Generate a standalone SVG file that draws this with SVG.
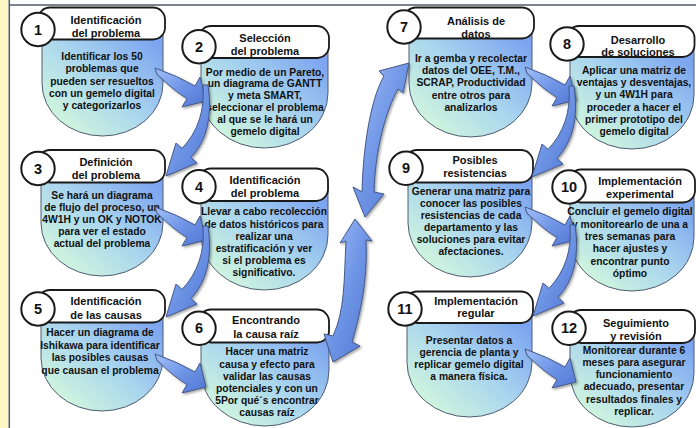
<svg xmlns="http://www.w3.org/2000/svg" width="696" height="428" viewBox="0 0 696 428">
<defs>
<linearGradient id="bodyGrad" x1="0.1" y1="0.9" x2="0.9" y2="0.1">
<stop offset="0" stop-color="#d3f8dc"/>
<stop offset="0.5" stop-color="#a9d5ee"/>
<stop offset="1" stop-color="#7ba3f0"/>
</linearGradient>
<linearGradient id="arrowGrad" x1="0" y1="0" x2="1" y2="1">
<stop offset="0" stop-color="#a2c0f8"/>
<stop offset="0.5" stop-color="#6f95e6"/>
<stop offset="1" stop-color="#5076d4"/>
</linearGradient>
<filter id="shadow" x="-30%" y="-30%" width="160%" height="160%">
<feDropShadow dx="1.5" dy="1.5" stdDeviation="1" flood-color="#333" flood-opacity="0.45"/>
</filter>
</defs>
<style>
.body{fill:url(#bodyGrad);stroke:#4f5b73;stroke-width:1}
.hdr{fill:#fff;stroke:#1a1a1a;stroke-width:1.8}
.numc{fill:#fff;stroke:#1a1a1a;stroke-width:2}
text{font-family:"Liberation Sans",Arial,sans-serif;font-weight:700;fill:#111;text-anchor:middle}
.h{font-size:11px}
.b{font-size:10.3px}
.n{font-size:14.5px}
.arrow{fill:url(#arrowGrad);stroke:#44598a;stroke-width:1;filter:url(#shadow)}
</style>
<rect x="0" y="0" width="696" height="428" fill="#fff"/>
<rect x="0" y="0" width="8.5" height="428" fill="#fdf8c4"/>
<line x1="9.3" y1="0" x2="9.3" y2="428" stroke="#4d5b6b" stroke-width="1.5"/>
<line x1="9" y1="5" x2="696" y2="5" stroke="#4d5b6b" stroke-width="1.5"/>

<g id="node1">
<path class="body" d="M42,24 H163 V83.4 A60.5 52.6 0 0 1 42,83.4 Z"/>
<rect class="hdr" x="38" y="7.5" width="127" height="32" rx="12"/>
<circle class="numc" cx="38" cy="29.5" r="16.7"/>
<text class="n" x="38" y="34.5">1</text>
<text class="h" x="106" y="24">Identificación</text>
<text class="h" x="106" y="36.5">del problema</text>
<text class="b" x="102" y="60">Identificar los 50</text>
<text class="b" x="102" y="72.3">problemas que</text>
<text class="b" x="102" y="84.5">pueden ser resueltos</text>
<text class="b" x="102" y="96.7">con un gemelo digital</text>
<text class="b" x="102" y="109">y categorizarlos</text>
</g>

<g id="node2">
<path class="body" d="M201,42 H328 V92.8 A63.5 55.2 0 0 1 201,92.8 Z"/>
<rect class="hdr" x="199" y="26" width="130" height="32" rx="12"/>
<circle class="numc" cx="199" cy="46.7" r="16.7"/>
<text class="n" x="199" y="51.7">2</text>
<text class="h" x="265" y="42">Selección</text>
<text class="h" x="265" y="54.5">del problema</text>
<text class="b" x="265" y="75.5">Por medio de un Pareto,</text>
<text class="b" x="265" y="87.3">un diagrama de GANTT</text>
<text class="b" x="265" y="99.1">y meta SMART,</text>
<text class="b" x="265" y="110.9">seleccionar el problema</text>
<text class="b" x="265" y="122.7">al que se le hará un</text>
<text class="b" x="265" y="134.5">gemelo digital</text>
</g>

<g id="node3">
<path class="body" d="M41,166 H163 V223 A61 53 0 0 1 41,223 Z"/>
<rect class="hdr" x="38" y="150" width="127" height="32.5" rx="12"/>
<circle class="numc" cx="38" cy="168.5" r="16.7"/>
<text class="n" x="38" y="173.5">3</text>
<text class="h" x="106" y="166">Definición</text>
<text class="h" x="106" y="179">del problema</text>
<text class="b" x="102" y="199">Se hará un diagrama</text>
<text class="b" x="102" y="211">de flujo del proceso, un</text>
<text class="b" x="102" y="223">4W1H y un OK y NOTOK</text>
<text class="b" x="102" y="235">para ver el estado</text>
<text class="b" x="102" y="247">actual del problema</text>
</g>

<g id="node4">
<path class="body" d="M201,184 H328 V234.8 A63.5 55.2 0 0 1 201,234.8 Z"/>
<rect class="hdr" x="199" y="168.5" width="129" height="32.5" rx="12"/>
<circle class="numc" cx="199" cy="186.7" r="16.7"/>
<text class="n" x="199" y="191.7">4</text>
<text class="h" x="265" y="184">Identificación</text>
<text class="h" x="265" y="197">del problema</text>
<text class="b" x="264" y="215.4">Llevar a cabo recolección</text>
<text class="b" x="264" y="227.6">de datos históricos para</text>
<text class="b" x="264" y="239.8">realizar una</text>
<text class="b" x="264" y="252">estratificación y ver</text>
<text class="b" x="264" y="264.2">si el problema es</text>
<text class="b" x="264" y="276.4">significativo.</text>
</g>

<g id="node5">
<path class="body" d="M41,306 H163 V358 A61 53 0 0 1 41,358 Z"/>
<rect class="hdr" x="38" y="290" width="127" height="32.5" rx="12"/>
<circle class="numc" cx="38" cy="309" r="16.7"/>
<text class="n" x="38" y="314">5</text>
<text class="h" x="106" y="305">Identificación</text>
<text class="h" x="106" y="318.5">de las causas</text>
<text class="b" x="100" y="336">Hacer un diagrama de</text>
<text class="b" x="100" y="348.5">Ishikawa para identificar</text>
<text class="b" x="100" y="361">las posibles causas</text>
<text class="b" x="100" y="373.5">que causan el problema</text>
</g>

<g id="node6">
<path class="body" d="M201,325 H329 V370.3 A64 55.7 0 0 1 201,370.3 Z"/>
<rect class="hdr" x="199" y="309.5" width="130" height="33" rx="12"/>
<circle class="numc" cx="199" cy="328.3" r="16.7"/>
<text class="n" x="199" y="333.3">6</text>
<text class="h" x="266" y="324">Encontrando</text>
<text class="h" x="266" y="337.5">la causa raíz</text>
<text class="b" x="267" y="355.4">Hacer una matriz</text>
<text class="b" x="267" y="367.6">causa y efecto para</text>
<text class="b" x="267" y="379.8">validar las causas</text>
<text class="b" x="267" y="392">potenciales y con un</text>
<text class="b" x="267" y="404.2">5Por qué´s encontrar</text>
<text class="b" x="267" y="416.4">causas raíz</text>
</g>

<g id="node7">
<path class="body" d="M409,24 H532 V83.5 A61.5 53.5 0 0 1 409,83.5 Z"/>
<rect class="hdr" x="404" y="7.5" width="130" height="31" rx="12"/>
<circle class="numc" cx="404" cy="27" r="16.7"/>
<text class="n" x="404" y="32">7</text>
<text class="h" x="476" y="25">Análisis de</text>
<text class="h" x="476" y="38">datos</text>
<text class="b" x="471" y="62">Ir a gemba y recolectar</text>
<text class="b" x="471" y="74.2">datos del OEE, T.M.,</text>
<text class="b" x="471" y="86.4">SCRAP, Productividad</text>
<text class="b" x="471" y="98.6">entre otros para</text>
<text class="b" x="471" y="110.8">analizarlos</text>
</g>

<g id="node8">
<path class="body" d="M570,42 H694 V95 A62 54 0 0 1 570,95 Z"/>
<rect class="hdr" x="567" y="26" width="127.5" height="31" rx="12"/>
<circle class="numc" cx="567" cy="44" r="16.7"/>
<text class="n" x="567" y="49">8</text>
<text class="h" x="638" y="43.5">Desarrollo</text>
<text class="h" x="638" y="56">de soluciones</text>
<text class="b" x="634" y="73.7">Aplicar una matriz de</text>
<text class="b" x="634" y="86">ventajas y desventajas,</text>
<text class="b" x="634" y="98.3">y un 4W1H para</text>
<text class="b" x="634" y="110.6">proceder a hacer el</text>
<text class="b" x="634" y="122.9">primer prototipo del</text>
<text class="b" x="634" y="135.2">gemelo digital</text>
</g>

<g id="node9">
<path class="body" d="M408,166 H532 V223 A62 54 0 0 1 408,223 Z"/>
<rect class="hdr" x="405" y="150" width="128" height="32.5" rx="12"/>
<circle class="numc" cx="406" cy="168.3" r="16.7"/>
<text class="n" x="406" y="173.3">9</text>
<text class="h" x="475" y="163.5">Posibles</text>
<text class="h" x="475" y="177">resistencias</text>
<text class="b" x="471" y="195.4">Generar una matriz para</text>
<text class="b" x="471" y="207.3">conocer las posibles</text>
<text class="b" x="471" y="219.2">resistencias de cada</text>
<text class="b" x="471" y="231.1">departamento y las</text>
<text class="b" x="471" y="243">soluciones para evitar</text>
<text class="b" x="471" y="254.9">afectaciones.</text>
</g>

<g id="node10">
<path class="body" d="M570,185 H694 V237 A62 54 0 0 1 570,237 Z"/>
<rect class="hdr" x="569" y="169.5" width="126" height="33" rx="12"/>
<circle class="numc" cx="569" cy="187" r="16.7"/>
<text class="n" x="569" y="192">10</text>
<text class="h" x="640" y="185">Implementación</text>
<text class="h" x="640" y="197.5">experimental</text>
<text class="b" x="630" y="215.4">Concluir el gemelo digital</text>
<text class="b" x="630" y="227.7">y monitorearlo de una a</text>
<text class="b" x="630" y="240">tres semanas para</text>
<text class="b" x="630" y="252.3">hacer ajustes y</text>
<text class="b" x="630" y="264.6">encontrar punto</text>
<text class="b" x="630" y="276.9">óptimo</text>
</g>

<g id="node11">
<path class="body" d="M407,307 H532 V362.6 A62.5 54.4 0 0 1 407,362.6 Z"/>
<rect class="hdr" x="405" y="291.5" width="128" height="31.5" rx="12"/>
<circle class="numc" cx="405" cy="309" r="16.7"/>
<text class="n" x="405" y="314">11</text>
<text class="h" x="476" y="304.5">Implementación</text>
<text class="h" x="476" y="317">regular</text>
<text class="b" x="469" y="344">Presentar datos a</text>
<text class="b" x="469" y="356">gerencia de planta y</text>
<text class="b" x="469" y="368">replicar gemelo digital</text>
<text class="b" x="469" y="380">a manera física.</text>
</g>

<g id="node12">
<path class="body" d="M570,326 H694 V373 A62 54 0 0 1 570,373 Z"/>
<rect class="hdr" x="569" y="310" width="126" height="33" rx="12"/>
<circle class="numc" cx="569" cy="328.3" r="16.7"/>
<text class="n" x="569" y="333.3">12</text>
<text class="h" x="636" y="327">Seguimiento</text>
<text class="h" x="636" y="339.5">y revisión</text>
<text class="b" x="634" y="353.7">Monitorear durante 6</text>
<text class="b" x="634" y="365.9">meses para asegurar</text>
<text class="b" x="634" y="378.1">funcionamiento</text>
<text class="b" x="634" y="390.3">adecuado, presentar</text>
<text class="b" x="634" y="402.5">resultados finales y</text>
<text class="b" x="634" y="414.7">replicar.</text>
</g>

<g id="connectors">
<path id="a1-2" class="arrow" d="M155,68 Q178,76 195,86 L200,77 L206,101 L182,107 L187,98.5 Q174,91 157,74 Z"/>
<path id="a2-3" class="arrow" d="M203,85 Q206,123 182,148.5 L176,143 L166,176 L197,163 L191,157.5 Q215,132 208,85 Z"/>
<path id="a3-4" class="arrow" transform="translate(0,139)" d="M155,68 Q178,76 195,86 L200,77 L206,101 L182,107 L187,98.5 Q174,91 157,74 Z"/>
<path id="a4-5" class="arrow" transform="translate(0,141)" d="M203,85 Q206,123 182,148.5 L176,143 L166,176 L197,163 L191,157.5 Q215,132 208,85 Z"/>
<path id="a5-6" class="arrow" transform="translate(0,286)" d="M155,68 Q178,76 195,86 L200,77 L206,101 L182,107 L187,98.5 Q174,91 157,74 Z"/>
<path id="a6-7-up" class="arrow" d="M409,63 L403,93 L398,89 C386,110 375,150 374,192 L384,194 L365,217 L353,187 L362,192 C363,150 370,100 384,76 L379,71 Z"/>
<path id="a6-7-down" class="arrow" d="M355,219 L372,241 L366,240 C368,280 360,315 352,342 L360,346 L333,362 L324,334 L333,336 C345,310 344,280 346,241 L340,243 Z"/>
<path id="a7-8" class="arrow" transform="translate(370,-1)" d="M155,68 Q178,76 195,86 L200,77 L206,101 L182,107 L187,98.5 Q174,91 157,74 Z"/>
<path id="a8-9" class="arrow" transform="translate(366,1)" d="M203,85 Q206,123 182,148.5 L176,143 L166,176 L197,163 L191,157.5 Q215,132 208,85 Z"/>
<path id="a9-10" class="arrow" transform="translate(370,139)" d="M155,68 Q178,76 195,86 L200,77 L206,101 L182,107 L187,98.5 Q174,91 157,74 Z"/>
<path id="a10-11" class="arrow" transform="translate(367,140)" d="M203,85 Q206,123 182,148.5 L176,143 L166,176 L197,163 L191,157.5 Q215,132 208,85 Z"/>
<path id="a11-12" class="arrow" transform="translate(370,281)" d="M155,68 Q178,76 195,86 L200,77 L206,101 L182,107 L187,98.5 Q174,91 157,74 Z"/>
</g>
</svg>
